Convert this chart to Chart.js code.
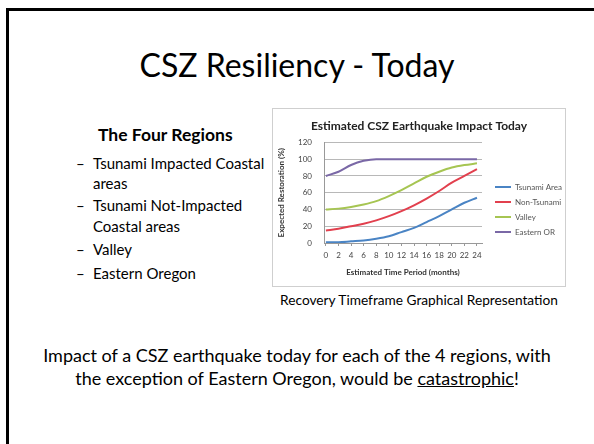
<!DOCTYPE html>
<html>
<head>
<meta charset="utf-8">
<script src="https://cdn.jsdelivr.net/npm/chart.js@4.4.1/dist/chart.umd.min.js"></script>
<style>
  html, body { margin: 0; padding: 0; background: #fff; }
  body { width: 594px; height: 444px; position: relative; overflow: hidden;
         font-family: Lato, "Open Sans", sans-serif; color: #000; }
  .frame { position: absolute; left: 6px; top: 8px; width: 700px; height: 600px;
           border-left: 3px solid #000; border-top: 3px solid #000; }
  .t { position: absolute; white-space: nowrap; }
  .title { left: 0; width: 594px; top: 45px; line-height: 40px; text-align: center; font-size: 32px; }
  .head { left: 98px; top: 124px; line-height: 22px; font-size: 17.5px; font-weight: bold; }
  .li { left: 93px; font-size: 15px; line-height: 20px; }
  .dash { left: 76px; font-size: 15px; line-height: 20px; }
  .cap { left: 272px; width: 294px; top: 290px; line-height: 20px; text-align: center; font-size: 13.7px; }
  .foot { left: 0; width: 594px; text-align: center; font-size: 18px; line-height: 24px; }
  .box { position: absolute; left: 272px; top: 108px; width: 292px; height: 177px;
         border: 1px solid #cfcfcf; background: #fff; }
  #chart { filter: blur(0.3px); }
</style>
</head>
<body>
<div class="frame"></div>
<div class="t title">CSZ Resiliency - Today</div>
<div class="t head">The Four Regions</div>

<div class="t dash" style="top:153px">–</div>
<div class="t li" style="top:153px">Tsunami Impacted Coastal</div>
<div class="t li" style="top:173px">areas</div>
<div class="t dash" style="top:195px">–</div>
<div class="t li" style="top:195px">Tsunami Not-Impacted</div>
<div class="t li" style="top:216px">Coastal areas</div>
<div class="t dash" style="top:239px">–</div>
<div class="t li" style="top:239px">Valley</div>
<div class="t dash" style="top:263px">–</div>
<div class="t li" style="top:263px">Eastern Oregon</div>

<div class="box"><canvas id="chart" width="292" height="177"></canvas></div>
<div class="t cap">Recovery Timeframe Graphical Representation</div>

<div class="t foot" style="top:343px">Impact of a CSZ earthquake today for each of the 4 regions, with</div>
<div class="t foot" style="top:366px">the exception of Eastern Oregon, would be <u>catastrophic</u>!</div>

<script>
// Months after the event and expected restoration (%) per region
const months      = [0, 2, 4, 6, 8, 10, 12, 14, 16, 18, 20, 22, 24];
const tsunamiArea = [1, 1, 2, 3, 5, 8, 13, 18, 25, 32, 40, 48, 54];
const nonTsunami  = [15, 17, 20, 23, 27, 32, 38, 45, 53, 62, 72, 80, 88];
const valley      = [40, 41, 43, 46, 50, 56, 63, 71, 79, 85, 90, 93, 95];
const easternOR   = [80, 85, 93, 98, 100, 100, 100, 100, 100, 100, 100, 100, 100];
const yTicks      = [0, 20, 40, 60, 80, 100, 120];

const toPoints = vals => vals.map((v, i) => ({ x: months[i], y: v }));

function series(label, vals, color) {
  return {
    label, data: toPoints(vals), borderColor: color, backgroundColor: color,
    borderWidth: 2, pointRadius: 0, cubicInterpolationMode: 'monotone', fill: false
  };
}

const FONT = 'Lato, "Open Sans", sans-serif';
const LEGEND_WIDTH = 83;
const LEGEND_SHIFT = 6;

// The layout caps a side legend at a quarter of the canvas width; give it a fixed width
// and nudge its items right so the key lines sit a little away from the plot.
const legendBox = {
  id: 'legendBox',
  beforeLayout(chart) {
    const lg = chart.legend;
    if (lg && !lg._fixedWidth) {
      const fit = lg.fit.bind(lg);
      lg.fit = function () { fit(); this.width = LEGEND_WIDTH; };
      lg._fixedWidth = true;
    }
  },
  afterLayout(chart) {
    const lg = chart.legend;
    if (lg) { lg.left += LEGEND_SHIFT; lg.right += LEGEND_SHIFT; }
  }
};

new Chart(document.getElementById('chart'), {
  type: 'line',
  data: {
    datasets: [
      series('Tsunami Area', tsunamiArea, '#4a84c4'),
      series('Non-Tsunami', nonTsunami, '#e2404e'),
      series('Valley', valley, '#a6c552'),
      series('Eastern OR', easternOR, '#7a68a6')
    ]
  },
  plugins: [legendBox],
  options: {
    responsive: false,
    animation: false,
    layout: { padding: 0 },
    plugins: {
      title: {
        display: true,
        text: 'Estimated CSZ Earthquake Impact Today',
        color: '#222',
        font: { family: FONT, size: 12, weight: 'bold' },
        padding: { top: 10, bottom: 9 }
      },
      legend: {
        position: 'right',
        align: 'end',
        fullSize: false,
        labels: {
          usePointStyle: true,
          pointStyle: 'line',
          pointStyleWidth: 16,
          color: '#555',
          padding: 7,
          font: { family: FONT, size: 8 }
        }
      },
      tooltip: { enabled: false }
    },
    scales: {
      x: {
        type: 'linear',
        min: -0.3,
        max: 24.8,
        afterBuildTicks: s => { s.ticks = months.map(v => ({ value: v })); },
        afterFit: s => { s.height = 43; },
        grid: { drawOnChartArea: false, drawTicks: true, tickLength: 3, color: '#999' },
        border: { color: '#999' },
        ticks: { color: '#444', padding: 5, maxRotation: 0, autoSkip: false,
                 font: { family: FONT, size: 8 } },
        title: { display: true, text: 'Estimated Time Period (months)', color: '#333',
                 padding: { top: 2, bottom: 9 }, font: { family: FONT, size: 8, weight: 'bold' } }
      },
      y: {
        min: 0,
        max: 120,
        afterBuildTicks: s => { s.ticks = yTicks.map(v => ({ value: v })); },
        afterFit: s => { s.width = 51; },
        grid: { color: '#b8b8b8', drawTicks: false },
        border: { color: '#999' },
        ticks: { color: '#444', padding: 12, font: { family: FONT, size: 8 } },
        title: { display: true, text: 'Expected Restoration (%)', color: '#333',
                 padding: { top: 4, bottom: 0 }, font: { family: FONT, size: 8, weight: 'bold' } }
      }
    }
  }
});
</script>
</body>
</html>
